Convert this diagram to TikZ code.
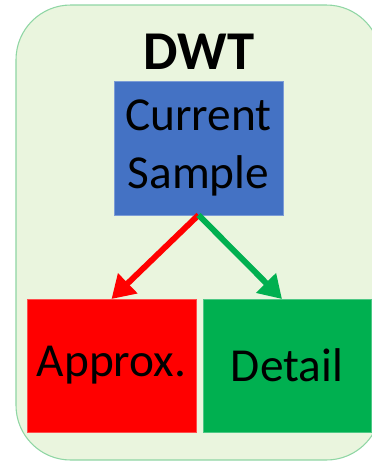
\documentclass[tikz,border=0pt]{standalone}
\usepackage{fontspec}
\setmainfont{Carlito}
\usetikzlibrary{arrows.meta}
\definecolor{panelfill}{HTML}{EAF5DE}
\definecolor{panelline}{HTML}{8FD6A4}
\definecolor{sampleblue}{HTML}{4472C4}
\definecolor{approxred}{HTML}{FF0000}
\definecolor{detailgreen}{HTML}{00B050}
\tikzset{
  box/.style={draw=#1!70!white, line width=0.6pt, fill=#1, inner sep=0pt, outer sep=0pt,
    font=\fontsize{35.5}{43}\selectfont, align=center},
  flow/.style={draw=#1, line width=4.4pt, -{Triangle[length=17pt,width=20pt]}},
}
\begin{document}
\begin{tikzpicture}[x=0.75pt,y=-0.75pt]
  \useasboundingbox (0,0) rectangle (372,462);
  \begin{scope}
    \clip (0,0) rectangle (372,462);
    \draw[panelline, fill=panelfill, line width=0.8pt, rounded corners=41pt]
      (16,5) rectangle (381,460);
  \end{scope}
  \node[font=\fontsize{41}{48}\bfseries] (title) at (199,52) {DWT};
  \node[box=sampleblue, minimum width=126.75pt, minimum height=100.5pt] (cur) at (198.5,148)
    {\raisebox{-2pt}{Current}\\\raisebox{-2pt}{Sample}};
  \node[box=approxred, minimum width=126.75pt, minimum height=99.75pt] (apx) at (111.5,365.5)
    {\raisebox{-3pt}{Approx.}};
  \node[box=detailgreen, minimum width=126pt, minimum height=99.75pt] (det) at (287,365.5)
    {\raisebox{-3pt}{Detail}};
  \draw[flow=approxred] (cur.south) -- (apx.north);
  \draw[flow=detailgreen] (cur.south) -- ([xshift=-3.75pt]det.north);
\end{tikzpicture}
\end{document}
